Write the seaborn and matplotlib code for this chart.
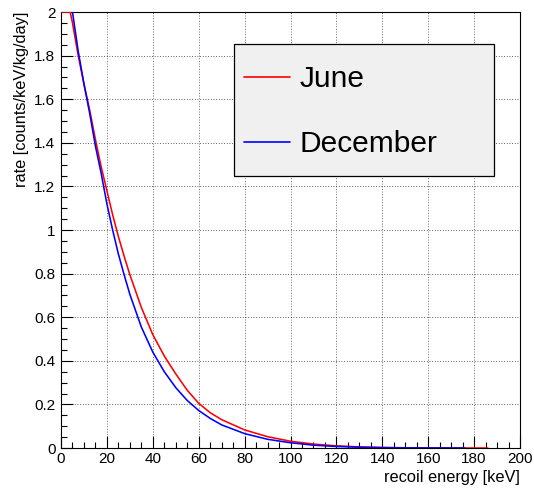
import numpy as np
import pandas as pd
import matplotlib
matplotlib.use("Agg")
import matplotlib.pyplot as plt
import matplotlib.patches as mpatches
from matplotlib.ticker import MultipleLocator
import seaborn as sns

# ---- data ----
energy = [0, 4, 5, 7.5, 10, 12.5, 15, 17.5, 20, 22.5, 25, 27.5, 30, 35, 40, 45, 50,
          55, 60, 65, 70, 80, 90, 100, 110, 120, 130, 140, 150, 160, 170, 176, 180, 186]
rate_june = [2.0, 2.0, 1.95, 1.80, 1.67, 1.55, 1.415, 1.29, 1.18, 1.07, 0.97, 0.88,
             0.795, 0.645, 0.52, 0.422, 0.34, 0.265, 0.205, 0.162, 0.13, 0.083, 0.052,
             0.031, 0.018, 0.010, 0.005, 0.0025, 0.001, 0.0004, 0.0001, 0.00004,
             0.00002, 0.0]
rate_december = [np.nan, np.nan, 2.0, 1.82, 1.67, 1.535, 1.385, 1.26, 1.12, 1.0, 0.89,
                 0.795, 0.705, 0.555, 0.44, 0.35, 0.277, 0.218, 0.172, 0.136, 0.106,
                 0.066, 0.04, 0.024, 0.013, 0.007, 0.0035, 0.0015, 0.0006, 0.0002,
                 0.00005, 0.0, np.nan, np.nan]
series_names = ["June", "December"]
series_colors = {"June": "#ff0000", "December": "#0000ff"}

x_ticks = [0, 20, 40, 60, 80, 100, 120, 140, 160, 180, 200]
y_ticks = [0, 0.2, 0.4, 0.6, 0.8, 1, 1.2, 1.4, 1.6, 1.8, 2]
x_tick_labels = ["0", "20", "40", "60", "80", "100", "120", "140", "160", "180", "200"]
y_tick_labels = ["0", "0.2", "0.4", "0.6", "0.8", "1", "1.2", "1.4", "1.6", "1.8", "2"]

df = pd.concat([
    pd.DataFrame({"energy": energy, "rate": rate_june, "month": "June"}),
    pd.DataFrame({"energy": energy, "rate": rate_december, "month": "December"}),
]).dropna()

# ---- style ----
sns.set_style("white")
plt.rcParams["font.family"] = ["Liberation Sans", "DejaVu Sans"]
plt.rcParams["text.color"] = "black"
plt.rcParams["axes.labelcolor"] = "black"

W, H = 534, 488
fig = plt.figure(figsize=(W / 100, H / 100), dpi=100)
ax = fig.add_axes([61 / W, 40 / H, 459 / W, 436 / H])

sns.lineplot(data=df, x="energy", y="rate", hue="month", hue_order=series_names,
             palette=series_colors, estimator=None, sort=False, linewidth=1.15,
             legend=False, ax=ax, zorder=3)

ax.set_xlim(0, 200)
ax.set_ylim(0, 2)
ax.set_xticks(x_ticks)
ax.set_xticklabels(x_tick_labels)
ax.set_yticks(y_ticks)
ax.set_yticklabels(y_tick_labels)
ax.xaxis.set_minor_locator(MultipleLocator(5))
ax.yaxis.set_minor_locator(MultipleLocator(0.05))
ax.tick_params(axis="both", which="major", direction="in", length=8.6, width=0.8,
               labelsize=11, color="black", labelcolor="black",
               bottom=True, left=True, top=False, right=False)
ax.tick_params(axis="both", which="minor", direction="in", length=4.3, width=0.8,
               color="black", bottom=True, left=True, top=False, right=False)
ax.tick_params(axis="x", which="major", pad=3)
ax.tick_params(axis="y", which="major", pad=4)

for s in ax.spines.values():
    s.set_color("black")
    s.set_linewidth(0.8)
    s.set_visible(True)

ax.grid(True, which="major", color="black", linestyle=(0, (1, 2.2)), linewidth=0.6, alpha=0.8)
ax.grid(False, which="minor")
ax.set_axisbelow(True)

ax.set_xlabel("recoil energy [keV]", fontsize=11.8, loc="right", labelpad=3)
ax.set_ylabel("rate [counts/keV/kg/day]", fontsize=11.8, loc="top", labelpad=4)

# legend box
rect = mpatches.Rectangle((234 / W, 1 - 176 / H), 260 / W, 132 / H, transform=fig.transFigure,
                          facecolor="#f0f0f0", edgecolor="black", linewidth=0.9,
                          zorder=4, clip_on=False)
ax.add_patch(rect)
leg = ax.legend(handles=ax.lines[:2], labels=series_names, loc="upper left",
                bbox_to_anchor=(244 / W, 1 - 65 / H), bbox_transform=fig.transFigure,
                frameon=False, fontsize=21.5, handlelength=1.55, handletextpad=0.3,
                labelspacing=1.25, borderpad=0, borderaxespad=0)
leg.set_zorder(5)
for line in leg.get_lines():
    line.set_linewidth(1.2)
for t in leg.get_texts():
    t.set_color("black")

fig.savefig("out.png", dpi=100, facecolor="white")
